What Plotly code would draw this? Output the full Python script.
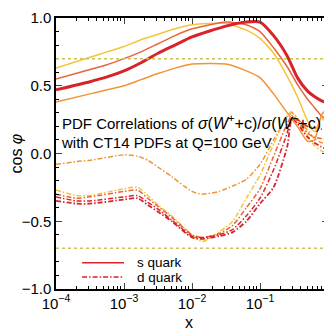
import plotly.graph_objects as go

# eixo x em log10(x)
lx_s = [-4, -3.5, -3.25, -3, -2.75, -2.5, -2.25, -2, -1.5, -1.2, -1, -0.8, -0.6, -0.45, -0.3, -0.2, -0.1, -0.05, 0]

s_amarelo = [0.63, 0.71, 0.75, 0.79, 0.84, 0.88, 0.92, 0.95, 0.96, 0.91, 0.85, 0.74, 0.57, 0.42, 0.24, 0.16, 0.26, 0.24, 0.12]
s_laranja_verm = [0.55, 0.62, 0.655, 0.70, 0.75, 0.81, 0.87, 0.92, 0.97, 0.95, 0.90, 0.78, 0.64, 0.51, 0.40, 0.34, 0.28, 0.26, 0.25]
s_vermelho = [0.47, 0.53, 0.565, 0.61, 0.67, 0.74, 0.80, 0.86, 0.94, 0.97, 0.97, 0.87, 0.72, 0.56, 0.46, 0.42, 0.39, 0.38, 0.36]
s_laranja = [0.38, 0.44, 0.47, 0.50, 0.545, 0.59, 0.63, 0.66, 0.66, 0.61, 0.56, 0.44, 0.30, 0.20, 0.09, 0.10, 0.28, 0.31, 0.22]

lx_d = [-4, -3.7, -3.5, -3, -2.8, -2.65, -2.5, -2.3, -2, -1.85, -1.6, -1.4, -1.2, -1, -0.8, -0.6, -0.53, -0.45, -0.3, -0.2, -0.1, 0]

d_laranja = [-0.08, -0.06, -0.05, -0.01, -0.02, -0.05, -0.10, -0.17, -0.28, -0.30, -0.28, -0.24, -0.19, -0.08, 0.10, 0.27, 0.30, 0.26, 0.17, 0.11, 0.08, 0.08]
d_amarelo = [-0.27, -0.31, -0.31, -0.26, -0.25, -0.31, -0.38, -0.46, -0.60, -0.65, -0.58, -0.50, -0.33, -0.16, 0.07, 0.28, 0.31, 0.24, 0.13, 0.06, 0.02, 0.00]
d_laranja_verm = [-0.30, -0.33, -0.32, -0.28, -0.27, -0.33, -0.39, -0.47, -0.60, -0.62, -0.59, -0.53, -0.40, -0.26, -0.02, 0.22, 0.28, 0.24, 0.15, 0.12, 0.11, 0.10]
d_vermelho1 = [-0.32, -0.35, -0.35, -0.32, -0.31, -0.36, -0.41, -0.49, -0.61, -0.62, -0.60, -0.56, -0.46, -0.33, -0.12, 0.15, 0.27, 0.25, 0.20, 0.19, 0.18, 0.18]
d_vermelho2 = [-0.35, -0.37, -0.37, -0.34, -0.33, -0.38, -0.43, -0.50, -0.62, -0.63, -0.61, -0.58, -0.50, -0.37, -0.25, 0.05, 0.26, 0.22, 0.12, 0.08, 0.05, 0.03]

limites = [0.7, -0.7]
legenda = ["s quark", "d quark"]

amarelo = "#f6c43a"
laranja_verm = "#e9643c"
vermelho = "#d8232a"
laranja = "#ef9535"
traco_ponto = "5px,2px,1.5px,2px"

fig = go.Figure()

def curva(lx, ys, cor, largura, dash):
    fig.add_trace(go.Scatter(
        x=[10 ** v for v in lx], y=ys, mode="lines",
        line=dict(color=cor, width=largura, dash=dash, shape="spline", smoothing=0.6),
        showlegend=False, hoverinfo="skip"
    ))

curva(lx_d, d_laranja, laranja, 1.5, traco_ponto)
curva(lx_d, d_amarelo, amarelo, 1.5, traco_ponto)
curva(lx_d, d_laranja_verm, laranja_verm, 1.5, traco_ponto)
curva(lx_d, d_vermelho1, vermelho, 1.5, traco_ponto)
curva(lx_d, d_vermelho2, vermelho, 1.8, traco_ponto)

curva(lx_s, s_amarelo, amarelo, 1.5, "solid")
curva(lx_s, s_laranja_verm, laranja_verm, 1.5, "solid")
curva(lx_s, s_laranja, laranja, 1.5, "solid")
curva(lx_s, s_vermelho, vermelho, 3, "solid")

for y0 in limites:
    fig.add_hline(y=y0, line=dict(color="#c9c25c", width=1.5, dash="dot"))

# legenda feita à mão (espaçamento mais apertado que o da legenda do plotly)
for i, (nome, dash) in enumerate(zip(legenda, ["solid", traco_ponto])):
    yl = 0.097 - i * 0.053
    fig.add_shape(type="line", xref="paper", yref="paper", x0=0.096, x1=0.25, y0=yl, y1=yl,
                  line=dict(color=vermelho, width=1.5, dash=dash))
    fig.add_annotation(xref="paper", yref="paper", x=0.295, y=yl, xanchor="left", yanchor="middle",
                       text=nome, showarrow=False, borderpad=0, font=dict(size=13.5, color="black"))

fig.add_annotation(
    xref="paper", yref="paper", x=0.01, y=0.662, xanchor="left", yanchor="top",
    text=("PDF Correlations of <span style='font-size:16px'><i>σ</i>(<i>W</i><sup>+</sup>+c)/"
          "<i>σ</i>(<i>W</i><sup>−</sup>+c)</span><br>with CT14 PDFs at Q=100 GeV"),
    showarrow=False, align="left", font=dict(size=15, color="black")
)

# títulos dos eixos como anotações
fig.add_annotation(xref="paper", yref="paper", x=-0.147, y=0.5, xanchor="center", yanchor="middle",
                   textangle=-90, text="cos <i>φ</i>", showarrow=False, borderpad=0,
                   font=dict(size=16, color="black"))
fig.add_annotation(xref="paper", yref="paper", x=0.49, y=-0.122, xanchor="center", yanchor="middle",
                   text="x", showarrow=False, font=dict(size=16, color="black"))

maj = [1e-4, 1e-3, 1e-2, 1e-1, 1]
minor_x = [m * 10 ** e for e in range(-4, 0) for m in range(2, 10)]

# a página tem 8px de margem no body: compensado nas margens
fig.update_layout(
    width=332, height=333,
    margin=dict(l=48, r=12, t=10, b=52),
    paper_bgcolor="white", plot_bgcolor="white",
    font=dict(family="Liberation Sans, Arial, sans-serif", color="black"),
    showlegend=False,
    xaxis=dict(
        type="log", range=[-4, 0], automargin=False,
        tickvals=maj,
        ticktext=["10<sup>−4</sup>", "10<sup>−3</sup>", "10<sup>−2</sup>", "10<sup>−1</sup>", "1"],
        ticks="inside", ticklen=6, tickwidth=1, mirror="allticks",
        showline=True, linecolor="black", linewidth=1.5, showgrid=False, zeroline=False,
        tickfont=dict(size=15),
        minor=dict(tickvals=minor_x, ticks="inside", ticklen=3, tickcolor="black", showgrid=False),
    ),
    yaxis=dict(
        range=[-1, 1], tickvals=[-1, -0.5, 0, 0.5, 1], automargin=False,
        ticktext=["−1.0", "−0.5", "0.0", "0.5", "1.0"],
        ticks="inside", ticklen=6, tickwidth=1, mirror="allticks",
        showline=True, linecolor="black", linewidth=1.5, showgrid=False, zeroline=False,
        tickfont=dict(size=15),
        minor=dict(dtick=0.1, ticks="inside", ticklen=3, tickcolor="black", showgrid=False),
    ),
)

fig.write_html("out.html")
